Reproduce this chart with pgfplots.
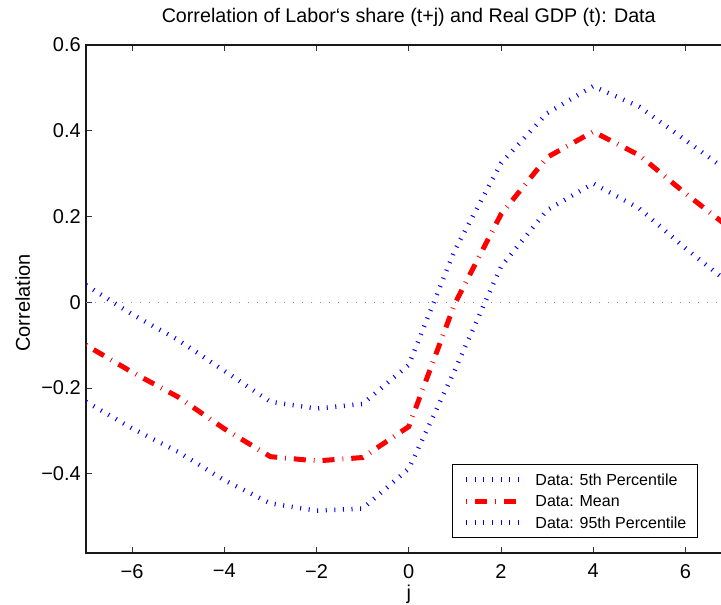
\documentclass[border=0pt]{standalone}
\usepackage{pgfplots}
\pgfplotsset{compat=1.18}
\usepackage{fontspec}
\setmainfont{Liberation Sans}

\pgfplotstableread{
j upper mean lower
-7  0.040 -0.100 -0.232
-6 -0.028 -0.163 -0.294
-5 -0.088 -0.221 -0.349
-4 -0.160 -0.295 -0.415
-3 -0.232 -0.360 -0.469
-2 -0.248 -0.370 -0.486
-1 -0.237 -0.362 -0.481
 0 -0.146 -0.290 -0.388
 1  0.122 -0.003 -0.158
 2  0.324  0.205  0.083
 3  0.441  0.338  0.215
 4  0.504  0.398  0.277
 5  0.456  0.343  0.219
 6  0.378  0.254  0.126
 7  0.300  0.170  0.040
}\datatable

\pgfplotstableread{
j z
-7 0
7 0
}\zerotable

\begin{document}
\begin{tikzpicture}
\begin{axis}[
  scale only axis,
  width=645.5pt, height=507.7pt,
  xmin=-7, xmax=7, ymin=-0.584, ymax=0.6,
  xtick={-6,-4,-2,0,2,4,6},
  xticklabels={−6,−4,−2,0,2,4,6},
  ytick={-0.4,-0.2,0,0.2,0.4,0.6},
  yticklabels={−0.4,−0.2,0,0.2,0.4,0.6},
  tick align=inside,
  major tick length=6pt,
  every tick/.style={black!80, line width=0.8pt},
  axis line style={line width=1.6pt, black!90},
  tick label style={font=\fontsize{20}{24}\selectfont},
  xticklabel style={anchor=north, inner sep=0pt, yshift=-11.3pt},
  yticklabel style={anchor=east, inner sep=0pt, xshift=-5pt},
  title={Correlation of Labor‘s share (t+j) and Real GDP (t): Data},
  title style={at={(0.5,1)}, anchor=base, yshift=16.7pt, inner sep=0pt,
    font=\fontsize{19.7}{24}\selectfont},
  xlabel={j},
  xlabel style={at={(0.5,0)}, anchor=base, yshift=-46.3pt, inner sep=0pt,
    font=\fontsize{20}{24}\selectfont},
  ylabel={Correlation},
  ylabel style={at={(axis description cs:-0.0868,0.492)}, anchor=base, inner sep=0pt,
    font=\fontsize{20}{24}\selectfont},
  legend cell align=left,
  legend style={at={(axis description cs:0.5665,0.0284)}, anchor=south west,
    draw=black, line width=1pt, fill=white,
    inner xsep=11.6pt, inner ysep=9.2pt,
    column sep=11.7pt, row sep=10pt,
    font=\fontsize{16}{19}\selectfont,
    nodes={inner sep=0pt, text height=11.7pt, text depth=0pt}},
  legend image code/.code={\draw[#1] (0pt,0pt) -- (55pt,0pt);},
]
\addplot[blue!50, line width=1pt, dash pattern=on 1pt off 8pt, forget plot] table[x=j, y=z] {\zerotable};
\addplot[blue, line width=4.5pt, dash pattern=on 1pt off 7.6pt] table[x=j, y=upper] {\datatable};
\addlegendentry{Data: 5th Percentile}
\addplot[red, line width=5pt, dash pattern=on 0.8pt off 8pt on 12pt off 8pt] table[x=j, y=mean] {\datatable};
\addlegendentry{Data: Mean}
\addplot[blue, line width=4.5pt, dash pattern=on 1pt off 7.6pt] table[x=j, y=lower] {\datatable};
\addlegendentry{Data: 95th Percentile}
\coordinate (bl) at (rel axis cs:0,0);
\coordinate (tr) at (rel axis cs:1,1);
\end{axis}
\pgfresetboundingbox
\path[use as bounding box] ([xshift=-86pt,yshift=-51.3pt]bl) rectangle ([xshift=-10.5pt,yshift=45pt]tr);
\end{tikzpicture}
\end{document}
